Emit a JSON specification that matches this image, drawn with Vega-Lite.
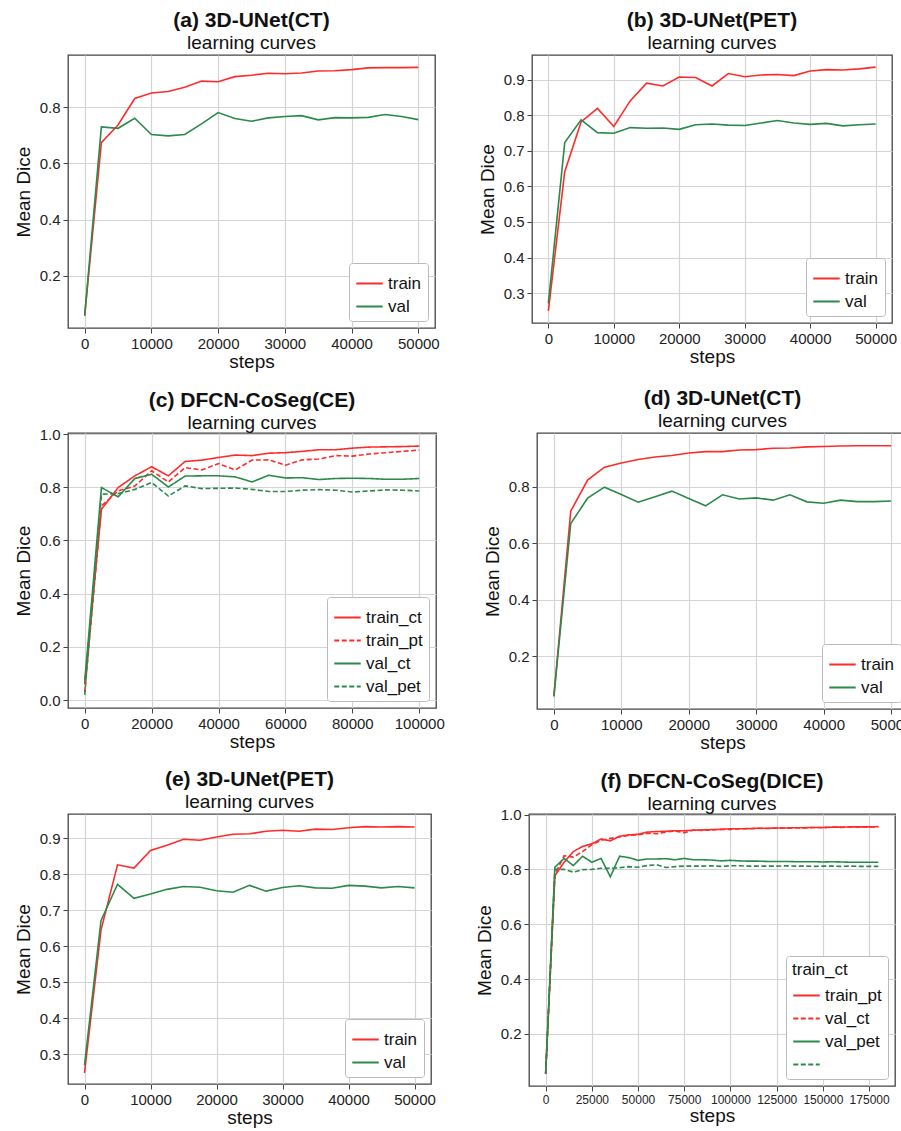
{
  "$schema": "https://vega.github.io/schema/vega-lite/v6.json",
  "background": "white",
  "padding": {"left": 13, "top": 9, "right": 0, "bottom": 0},
  "datasets": {
    "a": [
      {"step":0,"dice":0.058,"series":"train"},{"step":2500,"dice":0.674,"series":"train"},{"step":5000,"dice":0.737,"series":"train"},{"step":7500,"dice":0.831,"series":"train"},{"step":10000,"dice":0.851,"series":"train"},{"step":12500,"dice":0.856,"series":"train"},{"step":15000,"dice":0.871,"series":"train"},{"step":17500,"dice":0.893,"series":"train"},{"step":20000,"dice":0.891,"series":"train"},{"step":22500,"dice":0.909,"series":"train"},{"step":25000,"dice":0.914,"series":"train"},{"step":27500,"dice":0.921,"series":"train"},{"step":30000,"dice":0.919,"series":"train"},{"step":32500,"dice":0.922,"series":"train"},{"step":35000,"dice":0.929,"series":"train"},{"step":37500,"dice":0.930,"series":"train"},{"step":40000,"dice":0.934,"series":"train"},{"step":42500,"dice":0.940,"series":"train"},{"step":45000,"dice":0.941,"series":"train"},{"step":47500,"dice":0.941,"series":"train"},{"step":50000,"dice":0.942,"series":"train"},
      {"step":0,"dice":0.058,"series":"val"},{"step":2500,"dice":0.730,"series":"val"},{"step":5000,"dice":0.725,"series":"val"},{"step":7500,"dice":0.761,"series":"val"},{"step":10000,"dice":0.703,"series":"val"},{"step":12500,"dice":0.698,"series":"val"},{"step":15000,"dice":0.703,"series":"val"},{"step":17500,"dice":0.741,"series":"val"},{"step":20000,"dice":0.781,"series":"val"},{"step":22500,"dice":0.760,"series":"val"},{"step":25000,"dice":0.750,"series":"val"},{"step":27500,"dice":0.762,"series":"val"},{"step":30000,"dice":0.767,"series":"val"},{"step":32500,"dice":0.770,"series":"val"},{"step":35000,"dice":0.755,"series":"val"},{"step":37500,"dice":0.763,"series":"val"},{"step":40000,"dice":0.762,"series":"val"},{"step":42500,"dice":0.764,"series":"val"},{"step":45000,"dice":0.774,"series":"val"},{"step":47500,"dice":0.767,"series":"val"},{"step":50000,"dice":0.756,"series":"val"}
    ],
    "b": [
      {"step":0,"dice":0.250,"series":"train"},{"step":2500,"dice":0.641,"series":"train"},{"step":5000,"dice":0.781,"series":"train"},{"step":7500,"dice":0.819,"series":"train"},{"step":10000,"dice":0.768,"series":"train"},{"step":12500,"dice":0.840,"series":"train"},{"step":15000,"dice":0.890,"series":"train"},{"step":17500,"dice":0.882,"series":"train"},{"step":20000,"dice":0.907,"series":"train"},{"step":22500,"dice":0.906,"series":"train"},{"step":25000,"dice":0.882,"series":"train"},{"step":27500,"dice":0.917,"series":"train"},{"step":30000,"dice":0.908,"series":"train"},{"step":32500,"dice":0.913,"series":"train"},{"step":35000,"dice":0.914,"series":"train"},{"step":37500,"dice":0.911,"series":"train"},{"step":40000,"dice":0.924,"series":"train"},{"step":42500,"dice":0.928,"series":"train"},{"step":45000,"dice":0.927,"series":"train"},{"step":47500,"dice":0.930,"series":"train"},{"step":50000,"dice":0.935,"series":"train"},
      {"step":0,"dice":0.271,"series":"val"},{"step":2500,"dice":0.723,"series":"val"},{"step":5000,"dice":0.787,"series":"val"},{"step":7500,"dice":0.751,"series":"val"},{"step":10000,"dice":0.749,"series":"val"},{"step":12500,"dice":0.765,"series":"val"},{"step":15000,"dice":0.763,"series":"val"},{"step":17500,"dice":0.764,"series":"val"},{"step":20000,"dice":0.760,"series":"val"},{"step":22500,"dice":0.773,"series":"val"},{"step":25000,"dice":0.775,"series":"val"},{"step":27500,"dice":0.772,"series":"val"},{"step":30000,"dice":0.771,"series":"val"},{"step":32500,"dice":0.778,"series":"val"},{"step":35000,"dice":0.785,"series":"val"},{"step":37500,"dice":0.778,"series":"val"},{"step":40000,"dice":0.774,"series":"val"},{"step":42500,"dice":0.777,"series":"val"},{"step":45000,"dice":0.770,"series":"val"},{"step":47500,"dice":0.773,"series":"val"},{"step":50000,"dice":0.775,"series":"val"}
    ],
    "c": [
      {"step":0,"dice":0.06,"series":"train_ct"},{"step":5000,"dice":0.717,"series":"train_ct"},{"step":10000,"dice":0.799,"series":"train_ct"},{"step":15000,"dice":0.843,"series":"train_ct"},{"step":20000,"dice":0.877,"series":"train_ct"},{"step":25000,"dice":0.843,"series":"train_ct"},{"step":30000,"dice":0.897,"series":"train_ct"},{"step":35000,"dice":0.902,"series":"train_ct"},{"step":40000,"dice":0.912,"series":"train_ct"},{"step":45000,"dice":0.921,"series":"train_ct"},{"step":50000,"dice":0.919,"series":"train_ct"},{"step":55000,"dice":0.928,"series":"train_ct"},{"step":60000,"dice":0.930,"series":"train_ct"},{"step":65000,"dice":0.935,"series":"train_ct"},{"step":70000,"dice":0.941,"series":"train_ct"},{"step":75000,"dice":0.941,"series":"train_ct"},{"step":80000,"dice":0.947,"series":"train_ct"},{"step":85000,"dice":0.951,"series":"train_ct"},{"step":90000,"dice":0.952,"series":"train_ct"},{"step":95000,"dice":0.953,"series":"train_ct"},{"step":100000,"dice":0.955,"series":"train_ct"},
      {"step":0,"dice":0.03,"series":"train_pt"},{"step":5000,"dice":0.730,"series":"train_pt"},{"step":10000,"dice":0.786,"series":"train_pt"},{"step":15000,"dice":0.805,"series":"train_pt"},{"step":20000,"dice":0.862,"series":"train_pt"},{"step":25000,"dice":0.820,"series":"train_pt"},{"step":30000,"dice":0.874,"series":"train_pt"},{"step":35000,"dice":0.865,"series":"train_pt"},{"step":40000,"dice":0.889,"series":"train_pt"},{"step":45000,"dice":0.865,"series":"train_pt"},{"step":50000,"dice":0.902,"series":"train_pt"},{"step":55000,"dice":0.903,"series":"train_pt"},{"step":60000,"dice":0.883,"series":"train_pt"},{"step":65000,"dice":0.903,"series":"train_pt"},{"step":70000,"dice":0.906,"series":"train_pt"},{"step":75000,"dice":0.919,"series":"train_pt"},{"step":80000,"dice":0.917,"series":"train_pt"},{"step":85000,"dice":0.925,"series":"train_pt"},{"step":90000,"dice":0.930,"series":"train_pt"},{"step":95000,"dice":0.935,"series":"train_pt"},{"step":100000,"dice":0.940,"series":"train_pt"},
      {"step":0,"dice":0.07,"series":"val_ct"},{"step":5000,"dice":0.799,"series":"val_ct"},{"step":10000,"dice":0.764,"series":"val_ct"},{"step":15000,"dice":0.833,"series":"val_ct"},{"step":20000,"dice":0.849,"series":"val_ct"},{"step":25000,"dice":0.801,"series":"val_ct"},{"step":30000,"dice":0.842,"series":"val_ct"},{"step":35000,"dice":0.843,"series":"val_ct"},{"step":40000,"dice":0.843,"series":"val_ct"},{"step":45000,"dice":0.839,"series":"val_ct"},{"step":50000,"dice":0.820,"series":"val_ct"},{"step":55000,"dice":0.845,"series":"val_ct"},{"step":60000,"dice":0.835,"series":"val_ct"},{"step":65000,"dice":0.836,"series":"val_ct"},{"step":70000,"dice":0.829,"series":"val_ct"},{"step":75000,"dice":0.833,"series":"val_ct"},{"step":80000,"dice":0.834,"series":"val_ct"},{"step":85000,"dice":0.833,"series":"val_ct"},{"step":90000,"dice":0.830,"series":"val_ct"},{"step":95000,"dice":0.830,"series":"val_ct"},{"step":100000,"dice":0.833,"series":"val_ct"},
      {"step":0,"dice":0.02,"series":"val_pet"},{"step":5000,"dice":0.774,"series":"val_pet"},{"step":10000,"dice":0.776,"series":"val_pet"},{"step":15000,"dice":0.792,"series":"val_pet"},{"step":20000,"dice":0.818,"series":"val_pet"},{"step":25000,"dice":0.767,"series":"val_pet"},{"step":30000,"dice":0.805,"series":"val_pet"},{"step":35000,"dice":0.795,"series":"val_pet"},{"step":40000,"dice":0.796,"series":"val_pet"},{"step":45000,"dice":0.797,"series":"val_pet"},{"step":50000,"dice":0.792,"series":"val_pet"},{"step":55000,"dice":0.784,"series":"val_pet"},{"step":60000,"dice":0.784,"series":"val_pet"},{"step":65000,"dice":0.789,"series":"val_pet"},{"step":70000,"dice":0.791,"series":"val_pet"},{"step":75000,"dice":0.789,"series":"val_pet"},{"step":80000,"dice":0.782,"series":"val_pet"},{"step":85000,"dice":0.786,"series":"val_pet"},{"step":90000,"dice":0.790,"series":"val_pet"},{"step":95000,"dice":0.789,"series":"val_pet"},{"step":100000,"dice":0.786,"series":"val_pet"}
    ],
    "d": [
      {"step":0,"dice":0.058,"series":"train"},{"step":2500,"dice":0.714,"series":"train"},{"step":5000,"dice":0.824,"series":"train"},{"step":7500,"dice":0.870,"series":"train"},{"step":10000,"dice":0.885,"series":"train"},{"step":12500,"dice":0.897,"series":"train"},{"step":15000,"dice":0.906,"series":"train"},{"step":17500,"dice":0.911,"series":"train"},{"step":20000,"dice":0.920,"series":"train"},{"step":22500,"dice":0.925,"series":"train"},{"step":25000,"dice":0.925,"series":"train"},{"step":27500,"dice":0.931,"series":"train"},{"step":30000,"dice":0.932,"series":"train"},{"step":32500,"dice":0.937,"series":"train"},{"step":35000,"dice":0.938,"series":"train"},{"step":37500,"dice":0.942,"series":"train"},{"step":40000,"dice":0.943,"series":"train"},{"step":42500,"dice":0.945,"series":"train"},{"step":45000,"dice":0.946,"series":"train"},{"step":47500,"dice":0.946,"series":"train"},{"step":50000,"dice":0.946,"series":"train"},
      {"step":0,"dice":0.058,"series":"val"},{"step":2500,"dice":0.670,"series":"val"},{"step":5000,"dice":0.760,"series":"val"},{"step":7500,"dice":0.799,"series":"val"},{"step":10000,"dice":0.773,"series":"val"},{"step":12500,"dice":0.746,"series":"val"},{"step":15000,"dice":0.765,"series":"val"},{"step":17500,"dice":0.785,"series":"val"},{"step":20000,"dice":0.759,"series":"val"},{"step":22500,"dice":0.733,"series":"val"},{"step":25000,"dice":0.772,"series":"val"},{"step":27500,"dice":0.757,"series":"val"},{"step":30000,"dice":0.761,"series":"val"},{"step":32500,"dice":0.753,"series":"val"},{"step":35000,"dice":0.772,"series":"val"},{"step":37500,"dice":0.747,"series":"val"},{"step":40000,"dice":0.742,"series":"val"},{"step":42500,"dice":0.753,"series":"val"},{"step":45000,"dice":0.748,"series":"val"},{"step":47500,"dice":0.748,"series":"val"},{"step":50000,"dice":0.750,"series":"val"}
    ],
    "e": [
      {"step":0,"dice":0.249,"series":"train"},{"step":2500,"dice":0.645,"series":"train"},{"step":5000,"dice":0.826,"series":"train"},{"step":7500,"dice":0.817,"series":"train"},{"step":10000,"dice":0.866,"series":"train"},{"step":12500,"dice":0.880,"series":"train"},{"step":15000,"dice":0.897,"series":"train"},{"step":17500,"dice":0.894,"series":"train"},{"step":20000,"dice":0.903,"series":"train"},{"step":22500,"dice":0.911,"series":"train"},{"step":25000,"dice":0.912,"series":"train"},{"step":27500,"dice":0.919,"series":"train"},{"step":30000,"dice":0.922,"series":"train"},{"step":32500,"dice":0.919,"series":"train"},{"step":35000,"dice":0.925,"series":"train"},{"step":37500,"dice":0.924,"series":"train"},{"step":40000,"dice":0.929,"series":"train"},{"step":42500,"dice":0.932,"series":"train"},{"step":45000,"dice":0.931,"series":"train"},{"step":47500,"dice":0.932,"series":"train"},{"step":50000,"dice":0.931,"series":"train"},
      {"step":0,"dice":0.270,"series":"val"},{"step":2500,"dice":0.671,"series":"val"},{"step":5000,"dice":0.772,"series":"val"},{"step":7500,"dice":0.733,"series":"val"},{"step":10000,"dice":0.745,"series":"val"},{"step":12500,"dice":0.758,"series":"val"},{"step":15000,"dice":0.766,"series":"val"},{"step":17500,"dice":0.764,"series":"val"},{"step":20000,"dice":0.754,"series":"val"},{"step":22500,"dice":0.750,"series":"val"},{"step":25000,"dice":0.769,"series":"val"},{"step":27500,"dice":0.753,"series":"val"},{"step":30000,"dice":0.763,"series":"val"},{"step":32500,"dice":0.768,"series":"val"},{"step":35000,"dice":0.762,"series":"val"},{"step":37500,"dice":0.761,"series":"val"},{"step":40000,"dice":0.769,"series":"val"},{"step":42500,"dice":0.767,"series":"val"},{"step":45000,"dice":0.762,"series":"val"},{"step":47500,"dice":0.766,"series":"val"},{"step":50000,"dice":0.762,"series":"val"}
    ],
    "f": [
      {"step":0,"dice":0.055,"series":"train_ct"},{"step":5000,"dice":0.777,"series":"train_ct"},{"step":10000,"dice":0.826,"series":"train_ct"},{"step":15000,"dice":0.865,"series":"train_ct"},{"step":20000,"dice":0.884,"series":"train_ct"},{"step":25000,"dice":0.893,"series":"train_ct"},{"step":30000,"dice":0.911,"series":"train_ct"},{"step":35000,"dice":0.904,"series":"train_ct"},{"step":40000,"dice":0.921,"series":"train_ct"},{"step":45000,"dice":0.926,"series":"train_ct"},{"step":50000,"dice":0.928,"series":"train_ct"},{"step":55000,"dice":0.936,"series":"train_ct"},{"step":60000,"dice":0.938,"series":"train_ct"},{"step":65000,"dice":0.939,"series":"train_ct"},{"step":70000,"dice":0.941,"series":"train_ct"},{"step":75000,"dice":0.941,"series":"train_ct"},{"step":80000,"dice":0.943,"series":"train_ct"},{"step":85000,"dice":0.944,"series":"train_ct"},{"step":90000,"dice":0.945,"series":"train_ct"},{"step":95000,"dice":0.946,"series":"train_ct"},{"step":100000,"dice":0.948,"series":"train_ct"},{"step":105000,"dice":0.948,"series":"train_ct"},{"step":110000,"dice":0.949,"series":"train_ct"},{"step":115000,"dice":0.950,"series":"train_ct"},{"step":120000,"dice":0.950,"series":"train_ct"},{"step":125000,"dice":0.951,"series":"train_ct"},{"step":130000,"dice":0.951,"series":"train_ct"},{"step":135000,"dice":0.952,"series":"train_ct"},{"step":140000,"dice":0.952,"series":"train_ct"},{"step":145000,"dice":0.953,"series":"train_ct"},{"step":150000,"dice":0.953,"series":"train_ct"},{"step":155000,"dice":0.954,"series":"train_ct"},{"step":160000,"dice":0.954,"series":"train_ct"},{"step":165000,"dice":0.955,"series":"train_ct"},{"step":170000,"dice":0.955,"series":"train_ct"},{"step":175000,"dice":0.955,"series":"train_ct"},{"step":180000,"dice":0.956,"series":"train_ct"},
      {"step":0,"dice":0.055,"series":"train_pt"},{"step":5000,"dice":0.780,"series":"train_pt"},{"step":10000,"dice":0.850,"series":"train_pt"},{"step":15000,"dice":0.845,"series":"train_pt"},{"step":20000,"dice":0.865,"series":"train_pt"},{"step":25000,"dice":0.890,"series":"train_pt"},{"step":30000,"dice":0.906,"series":"train_pt"},{"step":35000,"dice":0.913,"series":"train_pt"},{"step":40000,"dice":0.918,"series":"train_pt"},{"step":45000,"dice":0.924,"series":"train_pt"},{"step":50000,"dice":0.926,"series":"train_pt"},{"step":55000,"dice":0.932,"series":"train_pt"},{"step":60000,"dice":0.930,"series":"train_pt"},{"step":65000,"dice":0.936,"series":"train_pt"},{"step":70000,"dice":0.940,"series":"train_pt"},{"step":75000,"dice":0.934,"series":"train_pt"},{"step":80000,"dice":0.943,"series":"train_pt"},{"step":85000,"dice":0.942,"series":"train_pt"},{"step":90000,"dice":0.944,"series":"train_pt"},{"step":95000,"dice":0.946,"series":"train_pt"},{"step":100000,"dice":0.946,"series":"train_pt"},{"step":105000,"dice":0.948,"series":"train_pt"},{"step":110000,"dice":0.948,"series":"train_pt"},{"step":115000,"dice":0.950,"series":"train_pt"},{"step":120000,"dice":0.949,"series":"train_pt"},{"step":125000,"dice":0.951,"series":"train_pt"},{"step":130000,"dice":0.950,"series":"train_pt"},{"step":135000,"dice":0.952,"series":"train_pt"},{"step":140000,"dice":0.951,"series":"train_pt"},{"step":145000,"dice":0.953,"series":"train_pt"},{"step":150000,"dice":0.952,"series":"train_pt"},{"step":155000,"dice":0.954,"series":"train_pt"},{"step":160000,"dice":0.953,"series":"train_pt"},{"step":165000,"dice":0.955,"series":"train_pt"},{"step":170000,"dice":0.954,"series":"train_pt"},{"step":175000,"dice":0.955,"series":"train_pt"},{"step":180000,"dice":0.955,"series":"train_pt"},
      {"step":0,"dice":0.055,"series":"val_ct"},{"step":5000,"dice":0.808,"series":"val_ct"},{"step":10000,"dice":0.840,"series":"val_ct"},{"step":15000,"dice":0.814,"series":"val_ct"},{"step":20000,"dice":0.848,"series":"val_ct"},{"step":25000,"dice":0.826,"series":"val_ct"},{"step":30000,"dice":0.840,"series":"val_ct"},{"step":35000,"dice":0.773,"series":"val_ct"},{"step":40000,"dice":0.848,"series":"val_ct"},{"step":45000,"dice":0.843,"series":"val_ct"},{"step":50000,"dice":0.833,"series":"val_ct"},{"step":55000,"dice":0.838,"series":"val_ct"},{"step":60000,"dice":0.838,"series":"val_ct"},{"step":65000,"dice":0.839,"series":"val_ct"},{"step":70000,"dice":0.835,"series":"val_ct"},{"step":75000,"dice":0.840,"series":"val_ct"},{"step":80000,"dice":0.835,"series":"val_ct"},{"step":85000,"dice":0.835,"series":"val_ct"},{"step":90000,"dice":0.834,"series":"val_ct"},{"step":95000,"dice":0.831,"series":"val_ct"},{"step":100000,"dice":0.833,"series":"val_ct"},{"step":105000,"dice":0.831,"series":"val_ct"},{"step":110000,"dice":0.830,"series":"val_ct"},{"step":115000,"dice":0.830,"series":"val_ct"},{"step":120000,"dice":0.829,"series":"val_ct"},{"step":125000,"dice":0.829,"series":"val_ct"},{"step":130000,"dice":0.829,"series":"val_ct"},{"step":135000,"dice":0.828,"series":"val_ct"},{"step":140000,"dice":0.828,"series":"val_ct"},{"step":145000,"dice":0.828,"series":"val_ct"},{"step":150000,"dice":0.827,"series":"val_ct"},{"step":155000,"dice":0.828,"series":"val_ct"},{"step":160000,"dice":0.827,"series":"val_ct"},{"step":165000,"dice":0.826,"series":"val_ct"},{"step":170000,"dice":0.826,"series":"val_ct"},{"step":175000,"dice":0.826,"series":"val_ct"},{"step":180000,"dice":0.826,"series":"val_ct"},
      {"step":0,"dice":0.055,"series":"val_pet"},{"step":5000,"dice":0.800,"series":"val_pet"},{"step":10000,"dice":0.800,"series":"val_pet"},{"step":15000,"dice":0.790,"series":"val_pet"},{"step":20000,"dice":0.799,"series":"val_pet"},{"step":25000,"dice":0.800,"series":"val_pet"},{"step":30000,"dice":0.804,"series":"val_pet"},{"step":35000,"dice":0.804,"series":"val_pet"},{"step":40000,"dice":0.806,"series":"val_pet"},{"step":45000,"dice":0.810,"series":"val_pet"},{"step":50000,"dice":0.808,"series":"val_pet"},{"step":55000,"dice":0.814,"series":"val_pet"},{"step":60000,"dice":0.817,"series":"val_pet"},{"step":65000,"dice":0.807,"series":"val_pet"},{"step":70000,"dice":0.810,"series":"val_pet"},{"step":75000,"dice":0.812,"series":"val_pet"},{"step":80000,"dice":0.812,"series":"val_pet"},{"step":85000,"dice":0.812,"series":"val_pet"},{"step":90000,"dice":0.813,"series":"val_pet"},{"step":95000,"dice":0.811,"series":"val_pet"},{"step":100000,"dice":0.813,"series":"val_pet"},{"step":105000,"dice":0.813,"series":"val_pet"},{"step":110000,"dice":0.812,"series":"val_pet"},{"step":115000,"dice":0.812,"series":"val_pet"},{"step":120000,"dice":0.812,"series":"val_pet"},{"step":125000,"dice":0.812,"series":"val_pet"},{"step":130000,"dice":0.813,"series":"val_pet"},{"step":135000,"dice":0.812,"series":"val_pet"},{"step":140000,"dice":0.812,"series":"val_pet"},{"step":145000,"dice":0.811,"series":"val_pet"},{"step":150000,"dice":0.812,"series":"val_pet"},{"step":155000,"dice":0.812,"series":"val_pet"},{"step":160000,"dice":0.811,"series":"val_pet"},{"step":165000,"dice":0.812,"series":"val_pet"},{"step":170000,"dice":0.811,"series":"val_pet"},{"step":175000,"dice":0.811,"series":"val_pet"},{"step":180000,"dice":0.811,"series":"val_pet"}
    ]
  },
  "vconcat": [
    {
      "hconcat": [
        {
          "title": {"text": "(a) 3D-UNet(CT)", "subtitle": "learning curves"},
          "width": 367, "height": 273,
          "data": {"name": "a"},
          "mark": {"type": "line", "strokeWidth": 1.6},
          "encoding": {
            "x": {"field": "step", "type": "quantitative", "scale": {"domain": [-2500, 52500], "nice": false, "zero": false}, "axis": {"values": [0, 10000, 20000, 30000, 40000, 50000], "format": "d", "title": "steps"}},
            "y": {"field": "dice", "type": "quantitative", "scale": {"domain": [0.014, 0.986], "nice": false, "zero": false}, "axis": {"values": [0.2, 0.4, 0.6, 0.8], "format": ".1f", "title": "Mean Dice"}},
            "color": {"field": "series", "type": "nominal", "scale": {"domain": ["train", "val"], "range": ["#ff2b2b", "#2b8a4b"]}, "legend": {"title": null}}
          }
        },
        {
          "title": {"text": "(b) 3D-UNet(PET)", "subtitle": "learning curves"},
          "width": 360, "height": 268,
          "data": {"name": "b"},
          "mark": {"type": "line", "strokeWidth": 1.6},
          "encoding": {
            "x": {"field": "step", "type": "quantitative", "scale": {"domain": [-2500, 52500], "nice": false, "zero": false}, "axis": {"values": [0, 10000, 20000, 30000, 40000, 50000], "format": "d", "title": "steps"}},
            "y": {"field": "dice", "type": "quantitative", "scale": {"domain": [0.216, 0.969], "nice": false, "zero": false}, "axis": {"values": [0.3, 0.4, 0.5, 0.6, 0.7, 0.8, 0.9], "format": ".1f", "title": "Mean Dice"}},
            "color": {"field": "series", "type": "nominal", "scale": {"domain": ["train", "val"], "range": ["#ff2b2b", "#2b8a4b"]}, "legend": {"title": null}}
          }
        }
      ],
      "resolve": {"scale": {"x": "independent", "y": "independent", "color": "independent"}, "axis": {"x": "independent", "y": "independent"}, "legend": {"color": "independent"}}
    },
    {
      "hconcat": [
        {
          "title": {"text": "(c) DFCN-CoSeg(CE)", "subtitle": "learning curves", "offset": -6},
          "width": 368, "height": 275,
          "data": {"name": "c"},
          "mark": {"type": "line", "strokeWidth": 1.6},
          "encoding": {
            "x": {"field": "step", "type": "quantitative", "scale": {"domain": [-5000, 105000], "nice": false, "zero": false}, "axis": {"values": [0, 20000, 40000, 60000, 80000, 100000], "format": "d", "title": "steps"}},
            "y": {"field": "dice", "type": "quantitative", "scale": {"domain": [-0.03, 1.004], "nice": false, "zero": false}, "axis": {"values": [0, 0.2, 0.4, 0.6, 0.8, 1.0], "format": ".1f", "title": "Mean Dice"}},
            "color": {"field": "series", "type": "nominal", "scale": {"domain": ["train_ct", "train_pt", "val_ct", "val_pet"], "range": ["#ff2b2b", "#ff2b2b", "#2b8a4b", "#2b8a4b"]}, "legend": {"title": null}},
            "strokeDash": {"field": "series", "type": "nominal", "scale": {"domain": ["train_ct", "train_pt", "val_ct", "val_pet"], "range": [[1, 0], [5, 2.5], [1, 0], [5, 2.5]]}, "legend": {"title": null}}
          }
        },
        {
          "title": {"text": "(d) 3D-UNet(CT)", "subtitle": "learning curves"},
          "width": 371, "height": 276,
          "data": {"name": "d"},
          "mark": {"type": "line", "strokeWidth": 1.6},
          "encoding": {
            "x": {"field": "step", "type": "quantitative", "scale": {"domain": [-2500, 52500], "nice": false, "zero": false}, "axis": {"values": [0, 10000, 20000, 30000, 40000, 50000], "format": "d", "title": "steps"}},
            "y": {"field": "dice", "type": "quantitative", "scale": {"domain": [0.013, 0.991], "nice": false, "zero": false}, "axis": {"values": [0.2, 0.4, 0.6, 0.8], "format": ".1f", "title": "Mean Dice"}},
            "color": {"field": "series", "type": "nominal", "scale": {"domain": ["train", "val"], "range": ["#ff2b2b", "#2b8a4b"]}, "legend": {"title": null}}
          }
        }
      ],
      "resolve": {"scale": {"x": "independent", "y": "independent", "color": "independent", "strokeDash": "independent"}, "axis": {"x": "independent", "y": "independent"}, "legend": {"color": "independent", "strokeDash": "independent"}}
    },
    {
      "hconcat": [
        {
          "title": {"text": "(e) 3D-UNet(PET)", "subtitle": "learning curves"},
          "width": 363, "height": 270,
          "data": {"name": "e"},
          "mark": {"type": "line", "strokeWidth": 1.6},
          "encoding": {
            "x": {"field": "step", "type": "quantitative", "scale": {"domain": [-2500, 52500], "nice": false, "zero": false}, "axis": {"values": [0, 10000, 20000, 30000, 40000, 50000], "format": "d", "title": "steps"}},
            "y": {"field": "dice", "type": "quantitative", "scale": {"domain": [0.218, 0.967], "nice": false, "zero": false}, "axis": {"values": [0.3, 0.4, 0.5, 0.6, 0.7, 0.8, 0.9], "format": ".1f", "title": "Mean Dice"}},
            "color": {"field": "series", "type": "nominal", "scale": {"domain": ["train", "val"], "range": ["#ff2b2b", "#2b8a4b"]}, "legend": {"title": null}}
          }
        },
        {
          "title": {"text": "(f) DFCN-CoSeg(DICE)", "subtitle": "learning curves", "offset": -6},
          "width": 366, "height": 272,
          "data": {"name": "f"},
          "mark": {"type": "line", "strokeWidth": 1.6},
          "encoding": {
            "x": {"field": "step", "type": "quantitative", "scale": {"domain": [-9000, 189000], "nice": false, "zero": false}, "axis": {"values": [0, 25000, 50000, 75000, 100000, 125000, 150000, 175000], "format": "d", "title": "steps", "labelFontSize": 12}},
            "y": {"field": "dice", "type": "quantitative", "scale": {"domain": [0.01, 1.002], "nice": false, "zero": false}, "axis": {"values": [0.2, 0.4, 0.6, 0.8, 1.0], "format": ".1f", "title": "Mean Dice"}},
            "color": {"field": "series", "type": "nominal", "scale": {"domain": ["train_ct", "train_pt", "val_ct", "val_pet"], "range": ["#ff2b2b", "#ff2b2b", "#2b8a4b", "#2b8a4b"]}, "legend": {"title": "train_ct", "labelExpr": "datum.label == 'train_ct' ? 'train_pt' : datum.label == 'train_pt' ? 'val_ct' : datum.label == 'val_ct' ? 'val_pet' : ''"}},
            "strokeDash": {"field": "series", "type": "nominal", "scale": {"domain": ["train_ct", "train_pt", "val_ct", "val_pet"], "range": [[1, 0], [5, 2.5], [1, 0], [5, 2.5]]}, "legend": {"title": "train_ct", "labelExpr": "datum.label == 'train_ct' ? 'train_pt' : datum.label == 'train_pt' ? 'val_ct' : datum.label == 'val_ct' ? 'val_pet' : ''"}}
          }
        }
      ],
      "resolve": {"scale": {"x": "independent", "y": "independent", "color": "independent", "strokeDash": "independent"}, "axis": {"x": "independent", "y": "independent"}, "legend": {"color": "independent", "strokeDash": "independent"}}
    }
  ],
  "resolve": {"scale": {"x": "independent", "y": "independent", "color": "independent", "strokeDash": "independent"}, "axis": {"x": "independent", "y": "independent"}, "legend": {"color": "independent", "strokeDash": "independent"}},
  "spacing": 15,
  "config": {
    "font": "Liberation Sans",
    "concat": {"spacing": 37},
    "view": {"stroke": "#444", "strokeWidth": 1.3},
    "title": {"fontSize": 21, "fontWeight": "bold", "color": "#111", "subtitleFontSize": 19, "subtitleColor": "#111", "subtitlePadding": 0, "offset": 2, "anchor": "middle"},
    "axis": {"labelFontSize": 15, "labelColor": "#222", "titleFontSize": 19, "titleFontWeight": "normal", "titleColor": "#111", "gridColor": "#d4d4d4", "gridWidth": 1.2, "domain": false, "tickColor": "#444", "tickSize": 5, "labelPadding": 3},
    "axisX": {"titlePadding": 1},
    "axisY": {"titlePadding": 6},
    "legend": {"orient": "bottom-right", "offset": 7, "strokeColor": "#bbbbbb", "fillColor": "white", "padding": 6, "cornerRadius": 3, "labelFontSize": 17, "labelColor": "#111", "titleFontSize": 17, "titleFontWeight": "normal", "titleColor": "#111", "titlePadding": 2, "symbolType": "stroke", "symbolSize": 700, "symbolStrokeWidth": 2, "rowPadding": -7, "labelLimit": 200}
  }
}
